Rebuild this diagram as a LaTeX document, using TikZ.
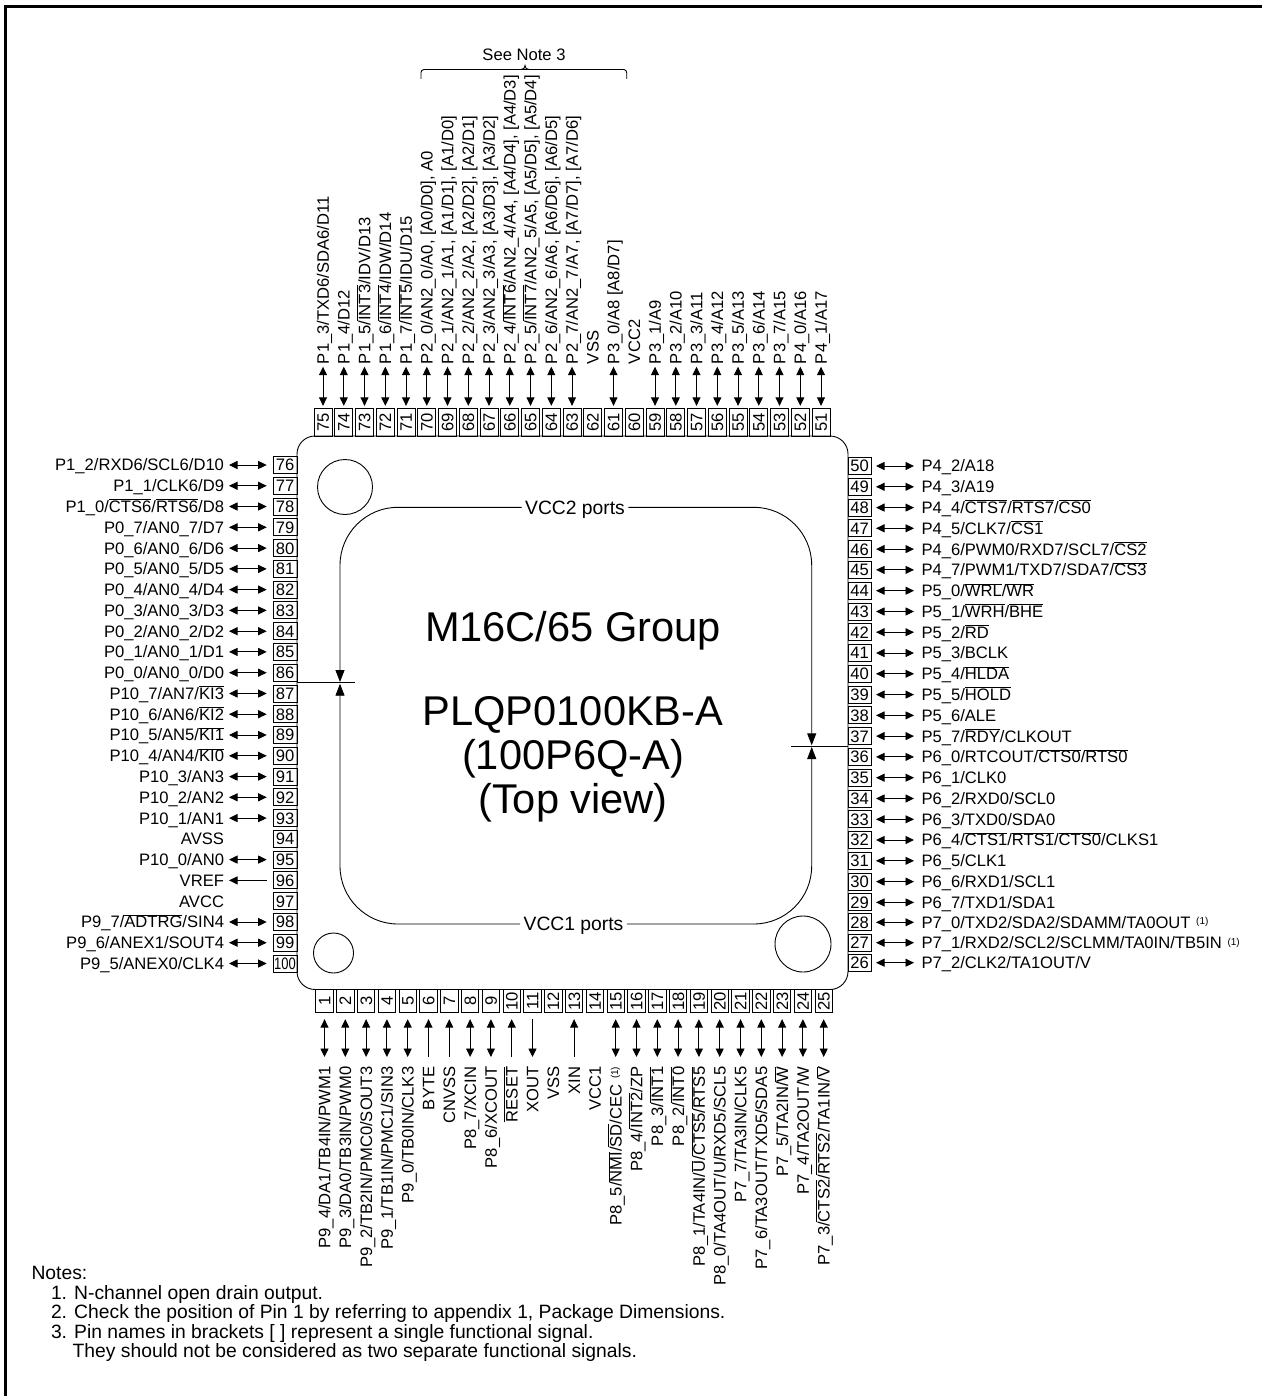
\documentclass[tikz,border=0pt]{standalone}
\usepackage{fontspec}
\setmainfont{Liberation Sans}
\usetikzlibrary{arrows.meta}
\newcommand{\ovl}[1]{$\overline{\mbox{#1}}$}
\newcommand{\fnone}{\ \hspace{1pt}\raisebox{3.5pt}{\fontsize{10}{10}\selectfont(1)}}
\tikzset{
  both/.style={{Triangle[length=8.5pt,width=8pt]}-{Triangle[length=8.5pt,width=8pt]}},
  tolabel/.style={{Triangle[length=8.5pt,width=8pt]}-},
  topin/.style={-{Triangle[length=8.5pt,width=8pt]}},
  leftgap/.style={shorten <=5pt,shorten >=6.3pt},
  rightgap/.style={shorten <=7.5pt,shorten >=5pt},
  topgap/.style={shorten <=2.7pt,shorten >=3pt},
  bottomgap/.style={shorten <=9.7pt,shorten >=6.3pt}
}
\begin{document}
\begin{tikzpicture} [x=1pt,y=-1pt,line width=0.9pt,
                every node/.style={inner sep=0pt,outer sep=0pt,text height=11.8pt,text depth=0pt,font=\fontsize{16.6}{19.5}\selectfont},
                leftbox/.style={draw,minimum width=24pt,minimum height=17pt},
                rightbox/.style={draw,minimum width=23pt,minimum height=17pt},
                topbox/.style={draw,rotate=90,minimum width=27.7pt,minimum height=18pt},
                bottombox/.style={draw,rotate=90,minimum width=23.7pt,minimum height=17.5pt},
                leftlabel/.style={anchor=east},
                rightlabel/.style={anchor=west},
                toplabel/.style={anchor=west,rotate=90},
                bottomlabel/.style={anchor=east,rotate=90},
                chiptitle/.style={font=\fontsize{41.6}{46}\selectfont,text height=29.8pt},
                portlabel/.style={font=\fontsize{19.3}{22}\selectfont,text height=13.8pt,inner xsep=3.5pt},
                notetext/.style={anchor=west,font=\fontsize{19.3}{22}\selectfont,text height=13.8pt},
                portline/.style={rounded corners=58pt,-{Triangle[length=12pt,width=9pt]}}]
\useasboundingbox (0,0) rectangle (1262,1396);
\fill (4,4.7) rectangle (1262,8);
\fill (4,4.7) rectangle (7,1396);
\draw[rounded corners=18pt] (297,436) rectangle (848,989.5);
\draw (345,487) circle (27.5pt);
\draw (333.5,953) circle (20pt);
\draw (803,944) circle (28pt);
\node[leftbox] (p76) at (285,465) {76};
\node[leftbox] (p77) at (285,485.8) {77};
\node[leftbox] (p78) at (285,506.5) {78};
\node[leftbox] (p79) at (285,527.3) {79};
\node[leftbox] (p80) at (285,548.1) {80};
\node[leftbox] (p81) at (285,568.9) {81};
\node[leftbox] (p82) at (285,589.6) {82};
\node[leftbox] (p83) at (285,610.4) {83};
\node[leftbox] (p84) at (285,631.2) {84};
\node[leftbox] (p85) at (285,651.9) {85};
\node[leftbox] (p86) at (285,672.7) {86};
\node[leftbox] (p87) at (285,693.5) {87};
\node[leftbox] (p88) at (285,714.2) {88};
\node[leftbox] (p89) at (285,735) {89};
\node[leftbox] (p90) at (285,755.8) {90};
\node[leftbox] (p91) at (285,776.6) {91};
\node[leftbox] (p92) at (285,797.3) {92};
\node[leftbox] (p93) at (285,818.1) {93};
\node[leftbox] (p94) at (285,838.9) {94};
\node[leftbox] (p95) at (285,859.6) {95};
\node[leftbox] (p96) at (285,880.4) {96};
\node[leftbox] (p97) at (285,901.2) {97};
\node[leftbox] (p98) at (285,922) {98};
\node[leftbox] (p99) at (285,942.7) {99};
\node[leftbox] (p100) at (285,963.5) {\scalebox{.78}[1]{100}};
\node[leftlabel] (l76) at (224,465) {P1\_2/RXD6/SCL6/D10};
\node[leftlabel] (l77) at (224,485.8) {P1\_1/CLK6/D9};
\node[leftlabel] (l78) at (224,506.5) {P1\_0/\ovl{CTS6}/\ovl{RTS6}/D8};
\node[leftlabel] (l79) at (224,527.3) {P0\_7/AN0\_7/D7};
\node[leftlabel] (l80) at (224,548.1) {P0\_6/AN0\_6/D6};
\node[leftlabel] (l81) at (224,568.9) {P0\_5/AN0\_5/D5};
\node[leftlabel] (l82) at (224,589.6) {P0\_4/AN0\_4/D4};
\node[leftlabel] (l83) at (224,610.4) {P0\_3/AN0\_3/D3};
\node[leftlabel] (l84) at (224,631.2) {P0\_2/AN0\_2/D2};
\node[leftlabel] (l85) at (224,651.9) {P0\_1/AN0\_1/D1};
\node[leftlabel] (l86) at (224,672.7) {P0\_0/AN0\_0/D0};
\node[leftlabel] (l87) at (224,693.5) {P10\_7/AN7/\ovl{KI3}};
\node[leftlabel] (l88) at (224,714.2) {P10\_6/AN6/\ovl{KI2}};
\node[leftlabel] (l89) at (224,735) {P10\_5/AN5/\ovl{KI1}};
\node[leftlabel] (l90) at (224,755.8) {P10\_4/AN4/\ovl{KI0}};
\node[leftlabel] (l91) at (224,776.6) {P10\_3/AN3};
\node[leftlabel] (l92) at (224,797.3) {P10\_2/AN2};
\node[leftlabel] (l93) at (224,818.1) {P10\_1/AN1};
\node[leftlabel] (l94) at (224,838.9) {AVSS};
\node[leftlabel] (l95) at (224,859.6) {P10\_0/AN0};
\node[leftlabel] (l96) at (224,880.4) {VREF};
\node[leftlabel] (l97) at (224,901.2) {AVCC};
\node[leftlabel] (l98) at (224,922) {P9\_7/\ovl{ADTRG}/SIN4};
\node[leftlabel] (l99) at (224,942.7) {P9\_6/ANEX1/SOUT4};
\node[leftlabel] (l100) at (224,963.5) {P9\_5/ANEX0/CLK4};
\node[rightbox] (p50) at (859.5,466) {50};
\node[rightbox] (p49) at (859.5,486.8) {49};
\node[rightbox] (p48) at (859.5,507.6) {48};
\node[rightbox] (p47) at (859.5,528.3) {47};
\node[rightbox] (p46) at (859.5,549.1) {46};
\node[rightbox] (p45) at (859.5,569.9) {45};
\node[rightbox] (p44) at (859.5,590.7) {44};
\node[rightbox] (p43) at (859.5,611.5) {43};
\node[rightbox] (p42) at (859.5,632.2) {42};
\node[rightbox] (p41) at (859.5,653) {41};
\node[rightbox] (p40) at (859.5,673.8) {40};
\node[rightbox] (p39) at (859.5,694.6) {39};
\node[rightbox] (p38) at (859.5,715.4) {38};
\node[rightbox] (p37) at (859.5,736.1) {37};
\node[rightbox] (p36) at (859.5,756.9) {36};
\node[rightbox] (p35) at (859.5,777.7) {35};
\node[rightbox] (p34) at (859.5,798.5) {34};
\node[rightbox] (p33) at (859.5,819.3) {33};
\node[rightbox] (p32) at (859.5,840) {32};
\node[rightbox] (p31) at (859.5,860.8) {31};
\node[rightbox] (p30) at (859.5,881.6) {30};
\node[rightbox] (p29) at (859.5,902.4) {29};
\node[rightbox] (p28) at (859.5,922.3) {28};
\node[rightbox] (p27) at (859.5,942.7) {27};
\node[rightbox] (p26) at (859.5,962.7) {26};
\node[rightlabel] (l50) at (921.5,466) {P4\_2/A18};
\node[rightlabel] (l49) at (921.5,486.8) {P4\_3/A19};
\node[rightlabel] (l48) at (921.5,507.6) {P4\_4/\ovl{CTS7}/\ovl{RTS7}/\ovl{CS0}};
\node[rightlabel] (l47) at (921.5,528.3) {P4\_5/CLK7/\ovl{CS1}};
\node[rightlabel] (l46) at (921.5,549.1) {P4\_6/PWM0/RXD7/SCL7/\ovl{CS2}};
\node[rightlabel] (l45) at (921.5,569.9) {P4\_7/PWM1/TXD7/SDA7/\ovl{CS3}};
\node[rightlabel] (l44) at (921.5,590.7) {P5\_0/\ovl{WRL}/\ovl{WR}};
\node[rightlabel] (l43) at (921.5,611.5) {P5\_1/\ovl{WRH}/\ovl{BHE}};
\node[rightlabel] (l42) at (921.5,632.2) {P5\_2/\ovl{RD}};
\node[rightlabel] (l41) at (921.5,653) {P5\_3/BCLK};
\node[rightlabel] (l40) at (921.5,673.8) {P5\_4/\ovl{HLDA}};
\node[rightlabel] (l39) at (921.5,694.6) {P5\_5/\ovl{HOLD}};
\node[rightlabel] (l38) at (921.5,715.4) {P5\_6/ALE};
\node[rightlabel] (l37) at (921.5,736.1) {P5\_7/\ovl{RDY}/CLKOUT};
\node[rightlabel] (l36) at (921.5,756.9) {P6\_0/RTCOUT/\ovl{CTS0}/\ovl{RTS0}};
\node[rightlabel] (l35) at (921.5,777.7) {P6\_1/CLK0};
\node[rightlabel] (l34) at (921.5,798.5) {P6\_2/RXD0/SCL0};
\node[rightlabel] (l33) at (921.5,819.3) {P6\_3/TXD0/SDA0};
\node[rightlabel] (l32) at (921.5,840) {P6\_4/\ovl{CTS1}/\ovl{RTS1}/\ovl{CTS0}/CLKS1};
\node[rightlabel] (l31) at (921.5,860.8) {P6\_5/CLK1};
\node[rightlabel] (l30) at (921.5,881.6) {P6\_6/RXD1/SCL1};
\node[rightlabel] (l29) at (921.5,902.4) {P6\_7/TXD1/SDA1};
\node[rightlabel] (l28) at (921.5,922.3) {P7\_0/TXD2/SDA2/SDAMM/TA0OUT\fnone};
\node[rightlabel] (l27) at (921.5,942.7) {P7\_1/RXD2/SCL2/SCLMM/TA0IN/TB5IN\fnone};
\node[rightlabel] (l26) at (921.5,962.7) {P7\_2/CLK2/TA1OUT/V};
\node[topbox] (p75) at (323,422.7) {75};
\node[topbox] (p74) at (343.8,422.7) {74};
\node[topbox] (p73) at (364.5,422.7) {73};
\node[topbox] (p72) at (385.3,422.7) {72};
\node[topbox] (p71) at (406,422.7) {71};
\node[topbox] (p70) at (426.8,422.7) {70};
\node[topbox] (p69) at (447.5,422.7) {69};
\node[topbox] (p68) at (468.3,422.7) {68};
\node[topbox] (p67) at (489,422.7) {67};
\node[topbox] (p66) at (509.8,422.7) {66};
\node[topbox] (p65) at (530.5,422.7) {65};
\node[topbox] (p64) at (551.3,422.7) {64};
\node[topbox] (p63) at (572,422.7) {63};
\node[topbox] (p62) at (592.8,422.7) {62};
\node[topbox] (p61) at (613.5,422.7) {61};
\node[topbox] (p60) at (634.3,422.7) {60};
\node[topbox] (p59) at (655,422.7) {59};
\node[topbox] (p58) at (675.8,422.7) {58};
\node[topbox] (p57) at (696.5,422.7) {57};
\node[topbox] (p56) at (717.3,422.7) {56};
\node[topbox] (p55) at (738,422.7) {55};
\node[topbox] (p54) at (758.8,422.7) {54};
\node[topbox] (p53) at (779.5,422.7) {53};
\node[topbox] (p52) at (800.3,422.7) {52};
\node[topbox] (p51) at (821,422.7) {51};
\node[toplabel] (l75) at (323,364) {P1\_3/TXD6/SDA6/D11};
\node[toplabel] (l74) at (343.8,364) {P1\_4/D12};
\node[toplabel] (l73) at (364.5,364) {P1\_5/\ovl{INT3}/IDV/D13};
\node[toplabel] (l72) at (385.3,364) {P1\_6/\ovl{INT4}/IDW/D14};
\node[toplabel] (l71) at (406,364) {P1\_7/\ovl{INT5}/IDU/D15};
\node[toplabel] (l70) at (426.8,364) {P2\_0/AN2\_0/A0, [A0/D0], A0};
\node[toplabel] (l69) at (447.5,364) {P2\_1/AN2\_1/A1, [A1/D1], [A1/D0]};
\node[toplabel] (l68) at (468.3,364) {P2\_2/AN2\_2/A2, [A2/D2], [A2/D1]};
\node[toplabel] (l67) at (489,364) {P2\_3/AN2\_3/A3, [A3/D3], [A3/D2]};
\node[toplabel] (l66) at (509.8,364) {P2\_4/\ovl{INT6}/AN2\_4/A4, [A4/D4], [A4/D3]};
\node[toplabel] (l65) at (530.5,364) {P2\_5/\ovl{INT7}/AN2\_5/A5, [A5/D5], [A5/D4]};
\node[toplabel] (l64) at (551.3,364) {P2\_6/AN2\_6/A6, [A6/D6], [A6/D5]};
\node[toplabel] (l63) at (572,364) {P2\_7/AN2\_7/A7, [A7/D7], [A7/D6]};
\node[toplabel] (l62) at (592.8,364) {VSS};
\node[toplabel] (l61) at (613.5,364) {P3\_0/A8 [A8/D7]};
\node[toplabel] (l60) at (634.3,364) {VCC2};
\node[toplabel] (l59) at (655,364) {P3\_1/A9};
\node[toplabel] (l58) at (675.8,364) {P3\_2/A10};
\node[toplabel] (l57) at (696.5,364) {P3\_3/A11};
\node[toplabel] (l56) at (717.3,364) {P3\_4/A12};
\node[toplabel] (l55) at (738,364) {P3\_5/A13};
\node[toplabel] (l54) at (758.8,364) {P3\_6/A14};
\node[toplabel] (l53) at (779.5,364) {P3\_7/A15};
\node[toplabel] (l52) at (800.3,364) {P4\_0/A16};
\node[toplabel] (l51) at (821,364) {P4\_1/A17};
\node[bottombox] (p1) at (324.5,1001) {1};
\node[bottombox] (p2) at (345.3,1001) {2};
\node[bottombox] (p3) at (366.1,1001) {3};
\node[bottombox] (p4) at (386.9,1001) {4};
\node[bottombox] (p5) at (407.7,1001) {5};
\node[bottombox] (p6) at (428.5,1001) {6};
\node[bottombox] (p7) at (449.3,1001) {7};
\node[bottombox] (p8) at (470.1,1001) {8};
\node[bottombox] (p9) at (490.9,1001) {9};
\node[bottombox] (p10) at (511.7,1001) {10};
\node[bottombox] (p11) at (532.5,1001) {11};
\node[bottombox] (p12) at (553.3,1001) {12};
\node[bottombox] (p13) at (574.1,1001) {13};
\node[bottombox] (p14) at (594.9,1001) {14};
\node[bottombox] (p15) at (615.7,1001) {15};
\node[bottombox] (p16) at (636.5,1001) {16};
\node[bottombox] (p17) at (657.3,1001) {17};
\node[bottombox] (p18) at (678.1,1001) {18};
\node[bottombox] (p19) at (698.9,1001) {19};
\node[bottombox] (p20) at (719.7,1001) {20};
\node[bottombox] (p21) at (740.5,1001) {21};
\node[bottombox] (p22) at (761.3,1001) {22};
\node[bottombox] (p23) at (782.1,1001) {23};
\node[bottombox] (p24) at (802.9,1001) {24};
\node[bottombox] (p25) at (823.7,1001) {25};
\node[bottomlabel] (l1) at (324.5,1066.7) {P9\_4/DA1/TB4IN/PWM1};
\node[bottomlabel] (l2) at (345.3,1066.7) {P9\_3/DA0/TB3IN/PWM0};
\node[bottomlabel] (l3) at (366.1,1066.7) {P9\_2/TB2IN/PMC0/SOUT3};
\node[bottomlabel] (l4) at (386.9,1066.7) {P9\_1/TB1IN/PMC1/SIN3};
\node[bottomlabel] (l5) at (407.7,1066.7) {P9\_0/TB0IN/CLK3};
\node[bottomlabel] (l6) at (428.5,1066.7) {BYTE};
\node[bottomlabel] (l7) at (449.3,1066.7) {CNVSS};
\node[bottomlabel] (l8) at (470.1,1066.7) {P8\_7/XCIN};
\node[bottomlabel] (l9) at (490.9,1066.7) {P8\_6/XCOUT};
\node[bottomlabel] (l10) at (511.7,1066.7) {\ovl{RESET}};
\node[bottomlabel] (l11) at (532.5,1066.7) {XOUT};
\node[bottomlabel] (l12) at (553.3,1066.7) {VSS};
\node[bottomlabel] (l13) at (574.1,1066.7) {XIN};
\node[bottomlabel] (l14) at (594.9,1066.7) {VCC1};
\node[bottomlabel] (l15) at (615.7,1066.7) {P8\_5/\ovl{NMI}/\ovl{SD}/CEC\fnone};
\node[bottomlabel] (l16) at (636.5,1066.7) {P8\_4/\ovl{INT2}/ZP};
\node[bottomlabel] (l17) at (657.3,1066.7) {P8\_3/\ovl{INT1}};
\node[bottomlabel] (l18) at (678.1,1066.7) {P8\_2/\ovl{INT0}};
\node[bottomlabel] (l19) at (698.9,1066.7) {P8\_1/TA4IN/\ovl{U}/\ovl{CTS5}/\ovl{RTS5}};
\node[bottomlabel] (l20) at (719.7,1066.7) {P8\_0/TA4OUT/U/RXD5/SCL5};
\node[bottomlabel] (l21) at (740.5,1066.7) {P7\_7/TA3IN/CLK5};
\node[bottomlabel] (l22) at (761.3,1066.7) {P7\_6/TA3OUT/TXD5/SDA5};
\node[bottomlabel] (l23) at (782.1,1066.7) {P7\_5/TA2IN/\ovl{W}};
\node[bottomlabel] (l24) at (802.9,1066.7) {P7\_4/TA2OUT/W};
\node[bottomlabel] (l25) at (823.7,1066.7) {P7\_3/\ovl{CTS2}/\ovl{RTS2}/TA1IN/\ovl{V}};
\draw[both,leftgap] (l76) edge (p76);
\draw[both,leftgap] (l77) edge (p77);
\draw[both,leftgap] (l78) edge (p78);
\draw[both,leftgap] (l79) edge (p79);
\draw[both,leftgap] (l80) edge (p80);
\draw[both,leftgap] (l81) edge (p81);
\draw[both,leftgap] (l82) edge (p82);
\draw[both,leftgap] (l83) edge (p83);
\draw[both,leftgap] (l84) edge (p84);
\draw[both,leftgap] (l85) edge (p85);
\draw[both,leftgap] (l86) edge (p86);
\draw[both,leftgap] (l87) edge (p87);
\draw[both,leftgap] (l88) edge (p88);
\draw[both,leftgap] (l89) edge (p89);
\draw[both,leftgap] (l90) edge (p90);
\draw[both,leftgap] (l91) edge (p91);
\draw[both,leftgap] (l92) edge (p92);
\draw[both,leftgap] (l93) edge (p93);
\draw[both,leftgap] (l95) edge (p95);
\draw[tolabel,leftgap] (l96) edge (p96);
\draw[both,leftgap] (l98) edge (p98);
\draw[both,leftgap] (l99) edge (p99);
\draw[both,leftgap] (l100) edge (p100);
\draw[both,rightgap] (l50) edge (p50);
\draw[both,rightgap] (l49) edge (p49);
\draw[both,rightgap] (l48) edge (p48);
\draw[both,rightgap] (l47) edge (p47);
\draw[both,rightgap] (l46) edge (p46);
\draw[both,rightgap] (l45) edge (p45);
\draw[both,rightgap] (l44) edge (p44);
\draw[both,rightgap] (l43) edge (p43);
\draw[both,rightgap] (l42) edge (p42);
\draw[both,rightgap] (l41) edge (p41);
\draw[both,rightgap] (l40) edge (p40);
\draw[both,rightgap] (l39) edge (p39);
\draw[both,rightgap] (l38) edge (p38);
\draw[both,rightgap] (l37) edge (p37);
\draw[both,rightgap] (l36) edge (p36);
\draw[both,rightgap] (l35) edge (p35);
\draw[both,rightgap] (l34) edge (p34);
\draw[both,rightgap] (l33) edge (p33);
\draw[both,rightgap] (l32) edge (p32);
\draw[both,rightgap] (l31) edge (p31);
\draw[both,rightgap] (l30) edge (p30);
\draw[both,rightgap] (l29) edge (p29);
\draw[both,rightgap] (l28) edge (p28);
\draw[both,rightgap] (l27) edge (p27);
\draw[both,rightgap] (l26) edge (p26);
\draw[both,topgap] (l75) edge (p75);
\draw[both,topgap] (l74) edge (p74);
\draw[both,topgap] (l73) edge (p73);
\draw[both,topgap] (l72) edge (p72);
\draw[both,topgap] (l71) edge (p71);
\draw[both,topgap] (l70) edge (p70);
\draw[both,topgap] (l69) edge (p69);
\draw[both,topgap] (l68) edge (p68);
\draw[both,topgap] (l67) edge (p67);
\draw[both,topgap] (l66) edge (p66);
\draw[both,topgap] (l65) edge (p65);
\draw[both,topgap] (l64) edge (p64);
\draw[both,topgap] (l63) edge (p63);
\draw[both,topgap] (l61) edge (p61);
\draw[both,topgap] (l59) edge (p59);
\draw[both,topgap] (l58) edge (p58);
\draw[both,topgap] (l57) edge (p57);
\draw[both,topgap] (l56) edge (p56);
\draw[both,topgap] (l55) edge (p55);
\draw[both,topgap] (l54) edge (p54);
\draw[both,topgap] (l53) edge (p53);
\draw[both,topgap] (l52) edge (p52);
\draw[both,topgap] (l51) edge (p51);
\draw[both,bottomgap] (l1) edge (p1);
\draw[both,bottomgap] (l2) edge (p2);
\draw[both,bottomgap] (l3) edge (p3);
\draw[both,bottomgap] (l4) edge (p4);
\draw[both,bottomgap] (l5) edge (p5);
\draw[topin,bottomgap] (l6) edge (p6);
\draw[topin,bottomgap] (l7) edge (p7);
\draw[both,bottomgap] (l8) edge (p8);
\draw[both,bottomgap] (l9) edge (p9);
\draw[topin,bottomgap] (l10) edge (p10);
\draw[tolabel,bottomgap] (l11) edge (p11);
\draw[topin,bottomgap] (l13) edge (p13);
\draw[both,bottomgap] (l15) edge (p15);
\draw[both,bottomgap] (l16) edge (p16);
\draw[both,bottomgap] (l17) edge (p17);
\draw[both,bottomgap] (l18) edge (p18);
\draw[both,bottomgap] (l19) edge (p19);
\draw[both,bottomgap] (l20) edge (p20);
\draw[both,bottomgap] (l21) edge (p21);
\draw[both,bottomgap] (l22) edge (p22);
\draw[both,bottomgap] (l23) edge (p23);
\draw[both,bottomgap] (l24) edge (p24);
\draw[both,bottomgap] (l25) edge (p25);
\node[chiptitle] (group) at (573,627) {M16C/65 Group};
\node[chiptitle] (pkg) at (573,711) {PLQP0100KB-A};
\node[chiptitle] (pkgold) at (573,755) {(100P6Q-A)};
\node[chiptitle] (view) at (573,799) {(Top view)};
\node[portlabel] (vcc2) at (575,507.3) {VCC2 ports};
\node[portlabel] (vcc1) at (573.5,924) {VCC1 ports};
\coordinate (lefttick) at (297,682.7);
\coordinate (lefttickend) at (355,682.7);
\coordinate (righttick) at (791,746);
\coordinate (righttickend) at (848,746);
\draw (lefttick) -- (lefttickend);
\draw (righttick) -- (righttickend);
\draw[portline] (vcc2.west) -- (340,507.3) -- (340,682);
\draw[portline] (vcc1.west) -- (340,924) -- (340,683.7);
\draw[portline] (vcc2.east) -- (811.7,507.3) -- (811.7,745.3);
\draw[portline] (vcc1.east) -- (811.7,924) -- (811.7,747);
\node (seenote) at (524,55) {See Note 3};
\draw[rounded corners=3pt] (421,79) -- (421,69.5) -- (626.7,69.5) -- (626.7,79);
\draw (521,69.5) .. controls (523.5,69.5) and (525,68) .. (525,65.5) .. controls (525,68) and (526.5,69.5) .. (529,69.5);
\node[notetext] (notes) at (31.5,1273) {Notes:};
\node[notetext] (noteone) at (51,1292.7) {1. N-channel open drain output.};
\node[notetext] (notetwo) at (51,1312) {2. Check the position of Pin 1 by referring to appendix 1, Package Dimensions.};
\node[notetext] (notethree) at (51,1331.7) {3. Pin names in brackets [ ] represent a single functional signal.};
\node[notetext] (notefour) at (72.7,1351) {They should not be considered as two separate functional signals.};
\end{tikzpicture}
\end{document}
